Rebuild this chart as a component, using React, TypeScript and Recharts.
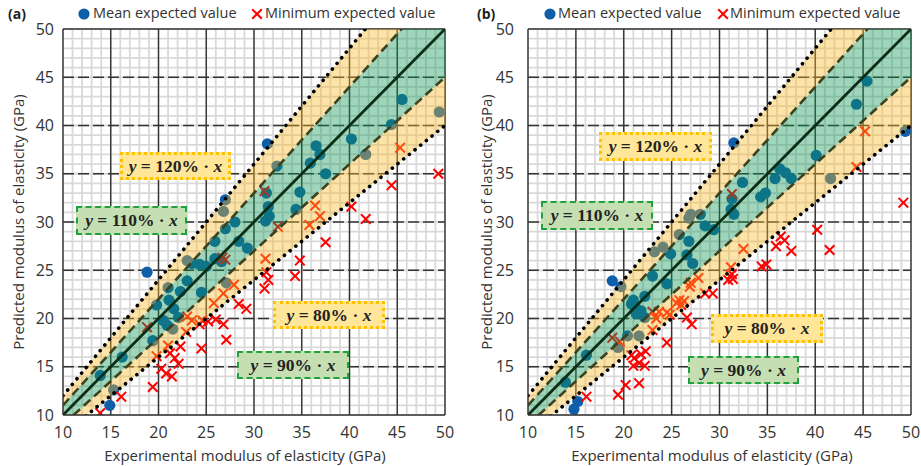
import React from 'react'
import {
  ComposedChart,
  Scatter,
  Area,
  Line,
  XAxis,
  YAxis,
  CartesianGrid,
  ReferenceLine,
} from 'recharts'

// (experimental, predicted) pairs in GPa
const meanA: number[][] = [
  [14.9, 11.0], [15.3, 12.6], [13.9, 14.1], [16.2, 16.0], [19.4, 17.7], [21.5, 18.9],
  [20.9, 19.3], [20.5, 19.8], [22.1, 20.1], [21.6, 21.0], [19.8, 21.4], [21.1, 21.9],
  [24.5, 22.7], [22.3, 22.8], [21.0, 23.2], [23.0, 23.9], [27.1, 23.7], [18.8, 24.8],
  [25.0, 25.4], [24.3, 25.6], [23.5, 25.7], [23.0, 26.0], [26.6, 25.9], [25.9, 26.2],
  [29.3, 27.3], [28.4, 28.0], [25.9, 28.0], [27.0, 29.3], [28.0, 30.0], [31.2, 30.1],
  [31.6, 30.6], [26.8, 31.1], [34.4, 31.3], [31.5, 31.6], [27.0, 32.3], [31.3, 33.0],
  [34.8, 33.1], [37.5, 35.0], [32.4, 35.8], [35.9, 36.1], [36.9, 37.0], [41.7, 37.0],
  [36.5, 37.9], [31.4, 38.1], [40.2, 38.6], [44.4, 40.1], [49.4, 41.4], [45.5, 42.7],
]

const minA: number[][] = [
  [13.9, 10.2], [16.1, 11.9], [19.4, 12.9], [21.4, 14.0], [20.8, 14.3], [20.3, 14.8],
  [22.1, 15.3], [21.7, 15.9], [19.8, 16.1], [21.2, 16.4], [24.5, 16.9], [22.3, 17.1],
  [21.0, 17.2], [27.1, 17.8], [22.9, 18.6], [18.8, 19.1], [26.8, 19.4], [24.3, 19.4],
  [25.2, 19.7], [24.6, 19.8], [23.5, 19.8], [26.0, 19.9], [23.0, 20.2], [29.2, 21.0],
  [28.4, 21.5], [25.8, 21.6], [26.8, 22.6], [31.1, 23.1], [27.9, 23.5], [31.5, 24.0],
  [34.3, 24.4], [31.3, 24.8], [34.8, 26.0], [31.2, 26.2], [27.0, 26.1], [26.7, 26.3],
  [37.5, 27.9], [32.5, 29.5], [35.8, 29.7], [36.9, 30.6], [41.7, 30.3], [40.2, 31.6],
  [36.4, 31.7], [31.1, 33.2], [44.4, 33.8], [49.3, 35.0], [45.3, 37.7],
]

const meanB: number[][] = [
  [14.8, 10.6], [15.2, 11.4], [13.9, 13.4], [16.1, 16.2], [19.4, 17.0], [20.4, 18.2],
  [21.6, 18.2], [22.2, 20.1], [21.3, 20.5], [21.8, 20.8], [21.2, 21.2], [20.8, 21.5],
  [21.0, 21.9], [22.2, 22.3], [24.5, 23.6], [19.7, 23.3], [18.8, 23.9], [23.0, 24.4],
  [27.2, 25.7], [26.6, 26.6], [24.9, 26.7], [23.2, 26.9], [24.1, 27.4], [26.8, 28.0],
  [25.8, 28.7], [29.4, 29.2], [28.5, 29.6], [26.8, 30.4], [27.0, 30.8], [28.0, 30.8],
  [31.5, 30.8], [31.2, 31.3], [31.3, 32.4], [34.3, 32.6], [34.8, 33.0], [32.4, 34.1],
  [35.8, 34.5], [37.5, 34.5], [36.9, 35.1], [36.3, 35.5], [41.6, 34.5], [40.1, 36.9],
  [31.5, 38.2], [49.4, 39.4], [44.3, 42.2], [45.4, 44.6],
]

const minB: number[][] = [
  [16.1, 11.9], [19.4, 12.1], [20.2, 13.1], [21.6, 13.3], [21.0, 15.1], [22.2, 15.1],
  [21.6, 15.4], [21.1, 15.9], [20.8, 16.2], [21.8, 16.3], [22.3, 16.6], [24.5, 17.5],
  [19.6, 17.6], [18.8, 18.0], [23.0, 18.8], [27.1, 19.4], [26.6, 20.1], [23.4, 20.0],
  [24.8, 20.4], [24.5, 20.6], [23.7, 20.7], [23.0, 20.7], [26.0, 21.4], [25.5, 21.6],
  [26.3, 21.8], [25.8, 21.9], [28.5, 22.6], [29.3, 22.6], [26.9, 23.3], [27.0, 23.7],
  [27.8, 24.2], [30.9, 24.0], [31.4, 24.1], [31.3, 24.6], [31.2, 25.3], [34.4, 25.4],
  [34.9, 25.6], [37.5, 27.0], [32.5, 27.2], [35.9, 27.5], [36.8, 28.1], [36.4, 28.5],
  [41.5, 27.1], [40.2, 29.2], [31.3, 32.9], [49.2, 32.0], [44.3, 35.7], [45.2, 39.4],
]

// axis range and tick values
const axisDomain = [10, 50]
const majorTicks = [10, 15, 20, 25, 30, 35, 40, 45, 50]
const gridTicks = Array.from({ length: 41 }, (_, i) => 10 + i)

// ratio lines y = k·x and the bands between them
const outerRatios = [0.8, 1.2]
const innerRatios = [0.9, 1.1]
const eqPercents = [120, 110, 80, 90]
const lineEnds = axisDomain.map((x) => ({ x }))

const legendNames = ['Mean expected value', 'Minimum expected value']
const xTitle = 'Experimental modulus of elasticity (GPa)'
const yTitle = 'Predicted modulus of elasticity (GPa)'

const toPoints = (rows: number[][]) => rows.map(([x, y]) => ({ x, y }))

const BLUE = '#0e5ea9'
const RED = '#ff0000'
const TEXT = '#333'
const FONT = '"Open Sans", "Noto Sans", sans-serif'

const Dot = (p: any) => <circle cx={p.cx} cy={p.cy} r={5.6} fill={BLUE} />

const Cross = (p: any) => {
  const s = 4.8
  return (
    <g stroke={RED} strokeWidth={2}>
      <line x1={p.cx - s} y1={p.cy - s} x2={p.cx + s} y2={p.cy + s} />
      <line x1={p.cx - s} y1={p.cy + s} x2={p.cx + s} y2={p.cy - s} />
    </g>
  )
}

function EqBox({ pct, box, green }: { pct: number; box: number[]; green: boolean }) {
  const [left, top, w, h] = box
  return (
    <div
      style={{
        position: 'absolute',
        left,
        top,
        width: w,
        height: h,
        boxSizing: 'border-box',
        background: green ? '#c5dfb3' : '#ffe699',
        border: green ? '2px dashed #1fa23d' : '3px dotted #ffc000',
        display: 'flex',
        alignItems: 'center',
        justifyContent: 'center',
        fontFamily: '"Liberation Serif", "DejaVu Serif", serif',
        fontWeight: 'bold',
        fontSize: 17.5,
        color: '#222',
        whiteSpace: 'nowrap',
      }}
    >
      <i>y</i>&nbsp;=&nbsp;{pct}%&nbsp;·&nbsp;<i>x</i>
    </div>
  )
}

interface PanelProps {
  tag: string
  left: number
  width: number
  yAxisWidth: number
  right: number
  yTickMargin: number
  mean: number[][]
  min: number[][]
  boxes: number[][]
  legendX: number[]
  yTitleX: number
  xTitleX: number
}

function Panel(props: PanelProps) {
  const { tag, left, width, yAxisWidth, right, yTickMargin, mean, min, boxes, legendX, yTitleX, xTitleX } = props
  const height = 466
  const tickStyle = { fill: TEXT, fontSize: 16, fontFamily: FONT }
  const fmt = (v: number) => (majorTicks.includes(v) ? String(v) : '')

  return (
    <div style={{ position: 'absolute', left, top: 0, width, height }}>
      <ComposedChart width={width} height={height} margin={{ top: 29, right, left: 0, bottom: 0 }}>
        <CartesianGrid stroke="#d9d9d9" strokeWidth={1.8} />
        {majorTicks.slice(1).map((v) => (
          <ReferenceLine key={'vx' + v} x={v} stroke="#333" strokeWidth={1.4} zIndex={-50} />
        ))}
        {majorTicks.slice(1, -1).map((v) => (
          <ReferenceLine key={'hy' + v} y={v} stroke="#333" strokeWidth={1.4} strokeDasharray="11 4" zIndex={-50} />
        ))}
        <ReferenceLine y={50} stroke="#333" strokeWidth={1.4} zIndex={-50} />

        <Scatter data={toPoints(mean)} shape={Dot} isAnimationActive={false} zIndex={100} />
        <Scatter data={toPoints(min)} shape={Cross} isAnimationActive={false} zIndex={100} />

        <Area
          data={lineEnds}
          dataKey={(d: any) => [outerRatios[0] * d.x, innerRatios[0] * d.x]}
          type="linear"
          stroke="none"
          fill="#fab923"
          fillOpacity={0.4}
          dot={false}
          activeDot={false}
          isAnimationActive={false}
          zIndex={200}
        />
        <Area
          data={lineEnds}
          dataKey={(d: any) => [innerRatios[0] * d.x, innerRatios[1] * d.x]}
          type="linear"
          stroke="none"
          fill="#0f9655"
          fillOpacity={0.4}
          dot={false}
          activeDot={false}
          isAnimationActive={false}
          zIndex={200}
        />
        <Area
          data={lineEnds}
          dataKey={(d: any) => [innerRatios[1] * d.x, outerRatios[1] * d.x]}
          type="linear"
          stroke="none"
          fill="#fab923"
          fillOpacity={0.4}
          dot={false}
          activeDot={false}
          isAnimationActive={false}
          zIndex={200}
        />

        {outerRatios.map((k) => (
          <Line
            key={'o' + k}
            data={lineEnds}
            dataKey={(d: any) => k * d.x}
            type="linear"
            stroke="#000"
            strokeWidth={3.6}
            strokeDasharray="0.1 7.2"
            strokeLinecap="round"
            dot={false}
            activeDot={false}
            isAnimationActive={false}
            zIndex={300}
          />
        ))}
        {innerRatios.map((k) => (
          <Line
            key={'i' + k}
            data={lineEnds}
            dataKey={(d: any) => k * d.x}
            type="linear"
            stroke="#3b4220"
            strokeWidth={2.6}
            strokeDasharray="9 5"
            dot={false}
            activeDot={false}
            isAnimationActive={false}
            zIndex={300}
          />
        ))}
        <Line
          data={lineEnds}
          dataKey="x"
          type="linear"
          stroke="#0b2e16"
          strokeWidth={2.8}
          dot={false}
          activeDot={false}
          isAnimationActive={false}
          zIndex={300}
        />

        <XAxis
          type="number"
          dataKey="x"
          domain={axisDomain}
          allowDataOverflow
          ticks={gridTicks}
          interval={0}
          tickFormatter={fmt}
          tick={tickStyle}
          tickLine={false}
          tickSize={0}
          tickMargin={12}
          height={51}
          axisLine={{ stroke: '#333', strokeWidth: 1.4 }}
        />
        <YAxis
          type="number"
          dataKey="y"
          domain={axisDomain}
          allowDataOverflow
          ticks={gridTicks}
          interval={0}
          tickFormatter={fmt}
          tick={tickStyle}
          tickLine={false}
          tickSize={0}
          tickMargin={yTickMargin}
          width={yAxisWidth}
          axisLine={{ stroke: '#333', strokeWidth: 1.4 }}
        />
      </ComposedChart>

      {boxes.map((b, i) => (
        <EqBox key={i} pct={eqPercents[i]} box={b} green={i % 2 === 1} />
      ))}

      <div style={{ position: 'absolute', top: 0, left: 0, width, height: 28, fontFamily: FONT, color: TEXT, fontSize: 14.5 }}>
        <span style={{ position: 'absolute', left: legendX[0], top: 4, fontWeight: 'bold', fontSize: 14, color: '#222' }}>{tag}</span>
        <svg style={{ position: 'absolute', left: legendX[1] - 6, top: 8 }} width={12} height={12}>
          <circle cx={6} cy={6} r={5.6} fill={BLUE} />
        </svg>
        <span style={{ position: 'absolute', left: legendX[2], top: 3 }}>{legendNames[0]}</span>
        <svg style={{ position: 'absolute', left: legendX[3] - 6, top: 8 }} width={12} height={12}>
          <g stroke={RED} strokeWidth={2}>
            <line x1={1.2} y1={1.2} x2={10.8} y2={10.8} />
            <line x1={1.2} y1={10.8} x2={10.8} y2={1.2} />
          </g>
        </svg>
        <span style={{ position: 'absolute', left: legendX[4], top: 3 }}>{legendNames[1]}</span>
      </div>

      <div
        style={{
          position: 'absolute',
          left: yTitleX,
          top: 222,
          transform: 'translate(-50%, -50%) rotate(-90deg)',
          whiteSpace: 'nowrap',
          fontFamily: FONT,
          fontSize: 15,
          color: TEXT,
        }}
      >
        {yTitle}
      </div>
      <div
        style={{
          position: 'absolute',
          left: xTitleX,
          top: 455,
          transform: 'translate(-50%, -50%)',
          whiteSpace: 'nowrap',
          fontFamily: FONT,
          fontSize: 15,
          color: TEXT,
        }}
      >
        {xTitle}
      </div>
    </div>
  )
}

export default function App() {
  return (
    <div style={{ position: 'absolute', left: 0, top: 0, width: 921, height: 466, background: '#fff', overflow: 'hidden' }}>
      <Panel
        tag="(a)"
        left={0}
        width={460}
        yAxisWidth={63}
        right={15}
        yTickMargin={9}
        mean={meanA}
        min={minA}
        boxes={[
          [120, 152, 111, 28],
          [76, 206, 111, 29],
          [273, 301, 112, 28],
          [237, 351, 112, 28],
        ]}
        legendX={[8, 84, 93, 257, 265]}
        yTitleX={18}
        xTitleX={245}
      />
      <Panel
        tag="(b)"
        left={460}
        width={461}
        yAxisWidth={68}
        right={10}
        yTickMargin={14}
        mean={meanB}
        min={minB}
        boxes={[
          [139, 132, 113, 29],
          [81, 201, 112, 29],
          [251, 314, 112, 29],
          [228, 356, 111, 28],
        ]}
        legendX={[17, 90, 98, 263, 270]}
        yTitleX={26}
        xTitleX={252}
      />
    </div>
  )
}
